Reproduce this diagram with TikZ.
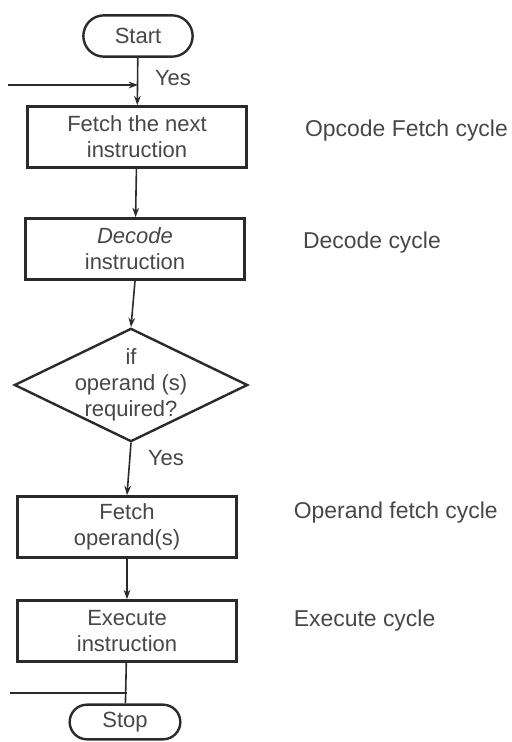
\documentclass[tikz,border=0pt]{standalone}
\usepackage{fontspec}
\setmainfont{Liberation Sans}
\usetikzlibrary{positioning,arrows.meta,shapes.geometric,shapes.misc}
\definecolor{ink}   {HTML}{2B2B2B}
\definecolor{print} {HTML}{474747}
\newcommand{\flowfont}{\fontsize{16.5}{19.5}\selectfont}
\newcommand{\sidefont}{\fontsize{17.2}{20}\selectfont}
\tikzset{
  box/.style     ={draw=ink, line width=1.8pt, fill=white, align=center,
                   minimum width=164pt, minimum height=46pt, inner sep=3pt,
                   text=print, font=\flowfont},
  term/.style    ={draw=ink, line width=1.8pt, fill=white, rounded rectangle,
                   minimum width=86pt, minimum height=31pt, inner sep=2pt,
                   text=print, font=\flowfont},
  decision/.style={draw=ink, line width=1.8pt, fill=white, diamond,
                   minimum width=175pt, minimum height=85pt, inner sep=0pt},
  ar/.style      ={-{Stealth[length=7pt,width=5pt]}, draw=ink, line width=1.2pt},
  ln/.style      ={draw=ink, line width=1.2pt},
  tag/.style     ={font=\flowfont, text=print, inner sep=2pt, align=center},
  note/.style    ={font=\sidefont, text=print, inner sep=0pt}
}

\begin{document}
\begin{tikzpicture}[x=0.75pt,y=-0.75pt]
\useasboundingbox (0,0) rectangle (511,742);
\node[term] (start) at (138,36) {Start};
\node[box] (fetch) at (137,137) {Fetch the next\\instruction};
\node[box] (decode) at (135,249) {\textit{Decode}\\instruction};
\node[decision] (dec) at (131,385) {};
\node[tag] (decq) at (dec.center) {if\\operand (s)\\required?};
\node[box] (oper) at (127,527) {Fetch\\operand(s)};
\node[box] (exec) at (127,631) {Execute\\instruction};
\node[term, minimum width=87pt, minimum height=26pt] (stop) at (125,722) {Stop};

% cycle names on the right
\node[note, right=43pt of fetch, yshift=5pt] (lfetch) {Opcode Fetch cycle};
\node[note, right=43pt of decode, yshift=5pt] (ldecode) {Decode cycle};
\node[note, right=42pt of oper, yshift=11pt] (loper) {Operand fetch cycle};
\node[note, right=42pt of exec, yshift=8pt] (lexec) {Execute cycle};

\coordinate (loopin) at (8,85);
\coordinate (joinin) at (start.south |- loopin);
\coordinate (loopout) at (10,693);
\coordinate (joinout) at (exec.south |- loopout);

\draw[ar] (start) -- (fetch);
\draw[ar] (loopin) -- (joinin);
\draw[ar] (fetch) -- (decode);
\draw[ar] (decode.south) -- (dec.north);
\draw[ar] (dec.south) -- (oper.north);
\draw[ar] (oper) -- (exec);
\draw[ln] (exec) -- (stop);
\draw[ln] (loopout) -- (joinout);

\node[tag] (yes1) at (173,78) {Yes};
\node[tag] (yes2) at (166,458) {Yes};
\end{tikzpicture}
\end{document}
